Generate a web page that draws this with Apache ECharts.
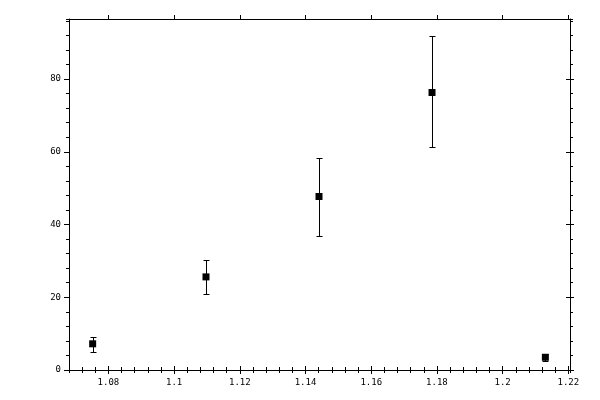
<!DOCTYPE html>
<html lang="en">
<head>
    <meta charset="UTF-8">
    <title>Error bars</title>
    <script src="https://cdn.jsdelivr.net/npm/echarts@6/dist/echarts.min.js"></script>
</head>
<body style="margin:0">
<div id="main" style="width:600px;height:400px"></div>

<script type="text/javascript">
    // values
    var xVals = [1.0752, 1.1097, 1.1441, 1.1785, 1.2130];
    var yVals = [7.2, 25.6, 47.7, 76.3, 3.5];
    var yLow = [4.9, 20.9, 36.9, 61.2, 2.6];
    var yHigh = [9.1, 30.3, 58.4, 91.8, 4.4];
    var xTicks = [1.08, 1.1, 1.12, 1.14, 1.16, 1.18, 1.2, 1.22];
    var yTicks = [0, 20, 40, 60, 80];

    var xMin = 1.068, xMax = 1.2205;
    var yMin = 0, yMax = 96.5;

    var points = [];
    var bars = [];
    for (var i = 0; i < xVals.length; i++) {
        points.push([xVals[i], yVals[i]]);
        bars.push([xVals[i], yLow[i], yHigh[i]]);
    }

    var font = {fontFamily: 'DejaVu Sans Mono', fontSize: 9, color: '#000'};

    // one axis builder, the rest are overlays for tick marks
    function xAx(pos, opts) {
        var a = {
            type: 'value', position: pos, min: xMin, max: xMax,
            splitLine: {show: false},
            axisLine: {show: false},
            axisLabel: {show: false},
            axisTick: {show: false}
        };
        for (var k in opts) a[k] = opts[k];
        return a;
    }
    function yAx(pos, opts) {
        var a = {
            type: 'value', position: pos, min: yMin, max: yMax,
            splitLine: {show: false},
            axisLine: {show: false},
            axisLabel: {show: false},
            axisTick: {show: false}
        };
        for (var k in opts) a[k] = opts[k];
        return a;
    }

    var xAxes = [];
    ['bottom', 'top'].forEach(function (pos) {
        xAxes.push(xAx(pos, {
            axisLine: {show: true, onZero: false, lineStyle: {color: '#000', width: 1}},
            axisTick: {show: true, inside: false, length: 4, customValues: xTicks, lineStyle: {color: '#000'}},
            axisLabel: pos === 'bottom'
                ? Object.assign({show: true, margin: 8, customValues: xTicks}, font)
                : {show: false}
        }));
        xAxes.push(xAx(pos, {
            axisTick: {show: true, inside: true, length: 4, customValues: xTicks, lineStyle: {color: '#000'}}
        }));
        xAxes.push(xAx(pos, {
            interval: 0.004,
            axisTick: {show: true, inside: false, length: 3, lineStyle: {color: '#000'}}
        }));
    });

    var yAxes = [];
    yAxes.push(yAx('left', {
        axisLine: {show: true, onZero: false, lineStyle: {color: '#000', width: 1}},
        axisTick: {show: true, inside: false, length: 5, customValues: yTicks, lineStyle: {color: '#000'}},
        axisLabel: Object.assign({show: true, margin: 8, customValues: yTicks}, font)
    }));
    yAxes.push(yAx('left', {
        interval: 4,
        axisTick: {show: true, inside: false, length: 3, lineStyle: {color: '#000'}}
    }));
    yAxes.push(yAx('right', {
        axisLine: {show: true, onZero: false, lineStyle: {color: '#000', width: 1}},
        axisTick: {show: true, inside: false, length: 4, customValues: yTicks, lineStyle: {color: '#000'}}
    }));
    yAxes.push(yAx('right', {
        axisTick: {show: true, inside: true, length: 4, customValues: yTicks, lineStyle: {color: '#000'}}
    }));
    yAxes.push(yAx('right', {
        interval: 4,
        axisTick: {show: true, inside: false, length: 3, lineStyle: {color: '#000'}}
    }));

    var myChart = echarts.init(document.getElementById('main'));
    var option = {
        backgroundColor: '#fff',
        animation: false,
        grid: {left: 69, top: 19, width: 501, height: 351},
        xAxis: xAxes,
        yAxis: yAxes,
        series: [{
            type: 'custom',
            xAxisIndex: 0,
            yAxisIndex: 0,
            data: bars,
            z: 1,
            renderItem: function (params, api) {
                var x = api.value(0);
                var lo = api.coord([x, api.value(1)]);
                var hi = api.coord([x, api.value(2)]);
                // snap to pixel centres so the 1px lines stay crisp
                var px = Math.round(lo[0]) + 0.5;
                var ly = Math.round(lo[1]) + 0.5;
                var hy = Math.round(hi[1]) + 0.5;
                var cap = 3;
                var st = {stroke: '#000', lineWidth: 1};
                return {
                    type: 'group',
                    children: [
                        {type: 'line', shape: {x1: px, y1: ly, x2: px, y2: hy}, style: st},
                        {type: 'line', shape: {x1: px - cap, y1: ly, x2: px + cap, y2: ly}, style: st},
                        {type: 'line', shape: {x1: px - cap, y1: hy, x2: px + cap, y2: hy}, style: st}
                    ]
                };
            }
        }, {
            type: 'scatter',
            xAxisIndex: 0,
            yAxisIndex: 0,
            symbol: 'rect',
            symbolSize: 7,
            itemStyle: {color: '#000', opacity: 1},
            z: 2,
            data: points
        }]
    };
    myChart.setOption(option);
</script>

</body>
</html>
